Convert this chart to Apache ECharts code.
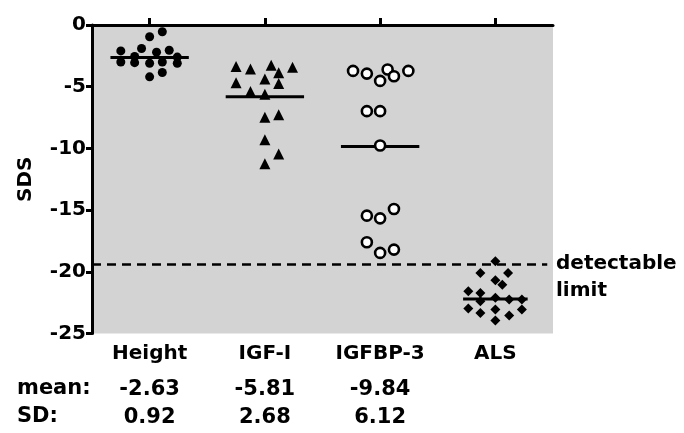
<!DOCTYPE html>
<html><head><meta charset="utf-8">
<script src="https://cdn.jsdelivr.net/npm/echarts@6/dist/echarts.min.js"></script>
<style>html,body{margin:0;padding:0;background:#fff}#c{width:684px;height:433px}</style>
</head><body><div id="c"></div>
<script>
// ---- data ----
const categories = ['Height', 'IGF-I', 'IGFBP-3', 'ALS'];
const yTicks = [0, -5, -10, -15, -20, -25];

const heightVals   = [-0.55, -0.95, -2.1, -1.9, -2.2, -2.05, -2.55, -3.0, -3.05, -3.1, -3.0, -3.1, -4.2, -3.85, -2.6];
const heightJitter = [0.11, 0.0, -0.25, -0.07, 0.06, 0.17, -0.13, -0.25, -0.13, 0.0, 0.11, 0.24, 0.0, 0.11, 0.24];

const igfVals   = [-3.37, -3.56, -3.26, -3.86, -3.42, -4.67, -4.37, -4.75, -5.39, -5.61, -7.47, -7.28, -9.30, -10.46, -11.25];
const igfJitter = [-0.25, -0.125, 0.055, 0.12, 0.24, -0.25, 0.0, 0.12, -0.125, 0.0, 0.0, 0.12, 0.0, 0.12, 0.0];

const bp3Vals   = [-3.72, -3.94, -4.53, -3.61, -4.15, -3.72, -6.98, -6.98, -9.76, -14.91, -15.45, -15.67, -17.61, -18.20, -18.47];
const bp3Jitter = [-0.235, -0.115, 0.0, 0.065, 0.12, 0.245, -0.115, 0.0, 0.0, 0.12, -0.115, 0.0, -0.115, 0.12, 0.0];

const alsVals   = [-19.15, -20.09, -20.09, -20.69, -21.04, -21.58, -21.71, -22.39, -22.11, -22.25, -22.25, -22.98, -23.33, -23.06, -23.06, -23.54, -23.95];
const alsJitter = [0.0, -0.13, 0.11, 0.0, 0.06, -0.235, -0.13, -0.13, 0.0, 0.12, 0.23, -0.235, -0.13, 0.0, 0.23, 0.12, 0.0];

const groupMeans = [-2.63, -5.81, -9.84, -22.2];
const meanHalfWidth = [0.34, 0.34, 0.34, 0.28];
const meanLabels = ['-2.63', '-5.81', '-9.84'];
const sdLabels = ['0.92', '2.68', '6.12'];
const detectableLimit = -19.4;

// ---- chart ----
const FONT = 'DejaVu Sans';
const chart = echarts.init(document.getElementById('c'), null, {renderer: 'canvas'});

function pts(vals, jit, g) { return vals.map((v, i) => [g + 1 + jit[i], v]); }

const groups = [
  {vals: heightVals, jit: heightJitter, symbol: 'circle', size: 9, style: {color: '#000', opacity: 1}},
  {vals: igfVals, jit: igfJitter, symbol: 'triangle', size: 11, style: {color: '#000', opacity: 1}},
  {vals: bp3Vals, jit: bp3Jitter, symbol: 'circle', size: 10, style: {color: '#fff', borderColor: '#000', borderWidth: 2.6, opacity: 1}},
  {vals: alsVals, jit: alsJitter, symbol: 'diamond', size: 10, style: {color: '#000', opacity: 1}}
];

const series = [];
groups.forEach((g, i) => {
  series.push({
    type: 'scatter', xAxisIndex: 0, yAxisIndex: 0, z: 5,
    symbol: g.symbol, symbolSize: g.size, itemStyle: g.style,
    data: pts(g.vals, g.jit, i), silent: true
  });
});
groupMeans.forEach((m, i) => {
  series.push({
    type: 'line', xAxisIndex: 0, yAxisIndex: 0, z: 3, symbol: 'none', silent: true,
    lineStyle: {color: '#000', width: 3},
    data: [[i + 1 - meanHalfWidth[i], m], [i + 1 + meanHalfWidth[i], m]]
  });
});
series.push({
  type: 'line', xAxisIndex: 0, yAxisIndex: 0, z: 4, symbol: 'none', silent: true,
  lineStyle: {color: '#000', width: 2.5, type: [9, 6]},
  data: [[0.5, detectableLimit], [4.45, detectableLimit]]
});

const labelStyle = {fontFamily: FONT, fontWeight: 'bold', fontSize: 20, color: '#000'};

chart.setOption({
  animation: false,
  backgroundColor: '#fff',
  grid: {left: 92, top: 25, width: 461, height: 308.5, show: true, backgroundColor: '#d3d3d3', borderWidth: 0},
  xAxis: [
    {type: 'value', min: 0.5, max: 4.5, show: false},
    {type: 'category', position: 'top', data: categories, boundaryGap: true,
     axisLine: {show: true, lineStyle: {color: '#000', width: 3}},
     axisTick: {show: true, alignWithLabel: true, interval: 0, length: 7, lineStyle: {color: '#000', width: 3}},
     axisLabel: {show: false}, splitLine: {show: false}},
    {type: 'category', position: 'bottom', data: categories, boundaryGap: true,
     axisLine: {show: false}, axisTick: {show: false}, splitLine: {show: false},
     axisLabel: Object.assign({margin: 10, interval: 0}, labelStyle)}
  ],
  yAxis: [{
    type: 'value', min: -25, max: 0, interval: 5,
    name: 'SDS', nameLocation: 'middle', nameGap: 56, nameRotate: 90,
    nameTextStyle: labelStyle,
    axisLine: {show: true, lineStyle: {color: '#000', width: 3}},
    axisTick: {show: true, length: 6, lineStyle: {color: '#000', width: 3}},
    axisLabel: Object.assign({margin: 6, formatter: v => yTicks.includes(v) ? String(v) : ''}, labelStyle),
    splitLine: {show: false}
  }],
  series: series
});

const F = 'bold 20px "DejaVu Sans"';
const F2 = 'bold 21px "DejaVu Sans"';
const texts = [
  {type: 'text', left: 556, top: 254, style: {text: 'detectable', fill: '#000', font: F}},
  {type: 'text', left: 556, top: 281, style: {text: 'limit', fill: '#000', font: F}},
  {type: 'text', left: 17, top: 378, style: {text: 'mean:', fill: '#000', font: F2}},
  {type: 'text', left: 17, top: 406, style: {text: 'SD:', fill: '#000', font: F2}}
];
meanLabels.forEach((t, i) => {
  const x = chart.convertToPixel({xAxisIndex: 0}, i + 1);
  texts.push({type: 'text', x: x, y: 390, style: {text: t, fill: '#000', font: F2, textAlign: 'center', textVerticalAlign: 'middle'}});
  texts.push({type: 'text', x: x, y: 418, style: {text: sdLabels[i], fill: '#000', font: F2, textAlign: 'center', textVerticalAlign: 'middle'}});
});
chart.setOption({graphic: texts});
</script>
</body></html>
